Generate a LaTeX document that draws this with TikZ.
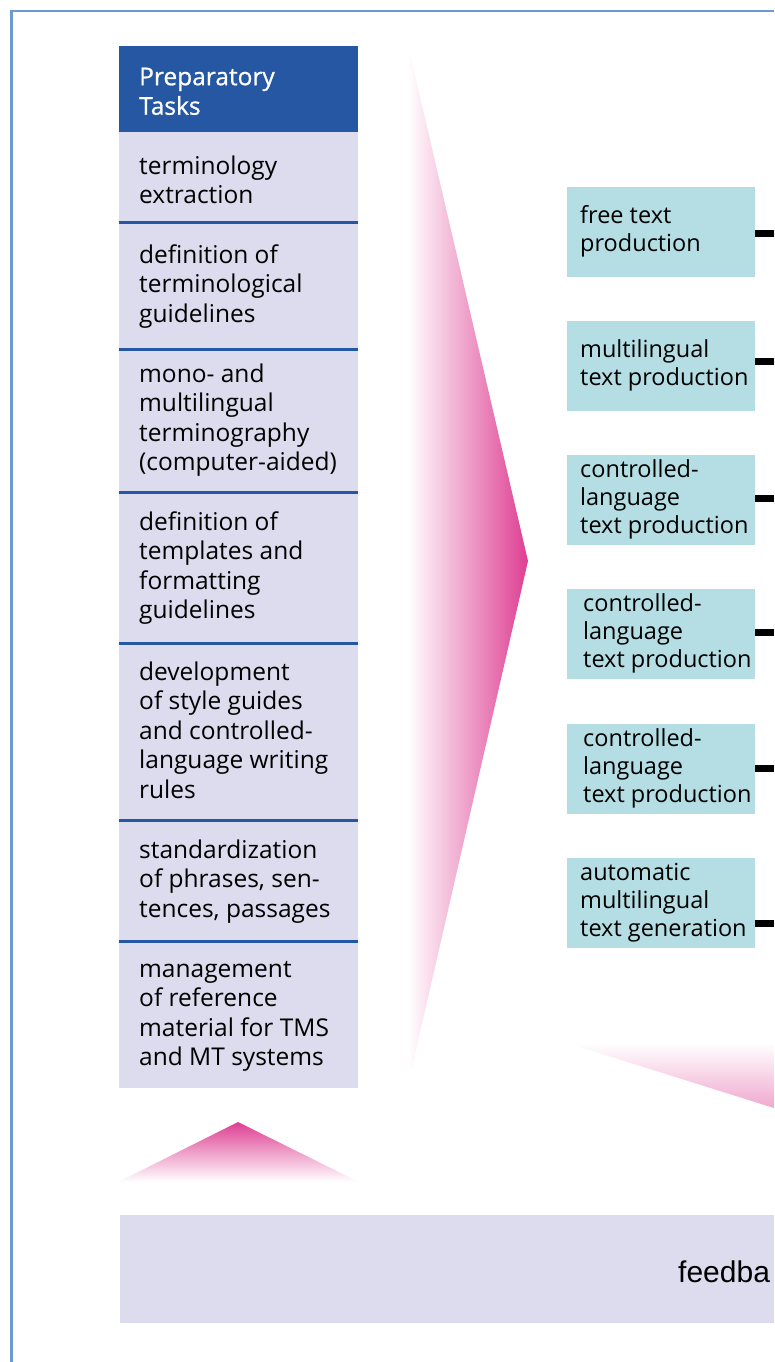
\documentclass[tikz,border=0pt]{standalone}
\usepackage{fontspec}
\setmainfont{Open Sans}
\newfontfamily\headfont{Open Sans}[FakeBold=0.8]
\newfontfamily\feedbackfont{Liberation Sans}
\usetikzlibrary{positioning}

\definecolor{headblue}{RGB}{37,87,163}
\definecolor{lavender}{RGB}{221,220,238}
\definecolor{tealbg}{RGB}{180,222,228}
\definecolor{frameblue}{RGB}{108,154,212}
\definecolor{fanpink}{RGB}{222,62,146}

% one cell of the task column: name, top, bottom, first baseline, text
\newcommand\taskcell[5]{
        \node [cell, minimum height=#3-#2] (#1) at (119,#2) {};
        \node [celltext] (#1txt) at (139,{#4-20.65}) {\strut #5};
}
% one production box: name, top, text indent, link height, text
\newcommand\prodbox[5]{
        \node [prod] (#1) at (567,#2) {};
        \node [prodtext] (#1txt) at ([xshift=#3]#1.west) {\strut #5\strut};
        \coordinate (#1end) at (774,#4);
        \draw [link] (#1.east |- #1end) -- (#1end);
}

\begin{document}
\begin{tikzpicture}[x=1pt, y=-1pt,
        cell/.style={fill=lavender, minimum width=239, anchor=north west, inner sep=0, outer sep=0},
        celltext/.style={anchor=north west, align=left, inner sep=0, font=\fontsize{24.5}{29.5}\selectfont},
        sep/.style={draw=headblue, line width=3},
        prod/.style={fill=tealbg, minimum width=188, minimum height=90, anchor=north west, inner sep=0, outer sep=0},
        prodtext/.style={anchor=west, align=left, inner sep=0, font=\fontsize{23.5}{28}\selectfont},
        link/.style={line width=7, black},
        frame/.style={draw=frameblue, line width=2.5}
        ]
        \useasboundingbox (0,0) rectangle (774,1362);
        \draw [frame] (774,11) -- (11.5,11) -- (11.5,1362);

        % shaded arrows
        \shade [left color=white, right color=fanpink] (408,45) -- (528,561) -- (408,1085) -- cycle;
        \shade [top color=fanpink, bottom color=white] (238,1122) -- (359,1182) -- (118,1182) -- cycle;
        \shade [top color=white, bottom color=fanpink!45] (567,1043) -- (774,1043) -- (774,1108) -- cycle;

        % preparatory tasks
        \node [cell, fill=headblue, minimum height=86] (head) at (119,46) {};
        \node [celltext, text=white, font=\headfont\fontsize{24.5}{29.5}\selectfont] (headtxt) at (139,{85-20.65}) {\strut Preparatory\\Tasks};
        \taskcell{c1}{132}{222}{174}{terminology\\extraction}
        \taskcell{c2}{222}{349}{263}{definition of\\terminological\\guidelines}
        \taskcell{c3}{349}{492}{382}{mono- and\\multilingual\\terminography\\(computer-aided)}
        \taskcell{c4}{492}{643}{530}{definition of\\templates and\\formatting\\guidelines}
        \taskcell{c5}{643}{820}{680}{development\\of style guides\\and controlled-\\language writing\\rules}
        \taskcell{c6}{820}{941}{858}{standardization\\of phrases, sen-\\tences, passages}
        \taskcell{c7}{941}{1088}{977}{management\\of reference\\material for TMS\\and MT systems}
        \foreach \c in {c2,c3,c4,c5,c6,c7}
          \draw [sep] (\c.north west) -- (\c.north east);

        % production
        \prodbox{p1}{187}{13pt}{233}{free text\\production}
        \prodbox{p2}{321}{13pt}{361}{multilingual\\text production}
        \prodbox{p3}{455}{13pt}{498}{controlled-\\language\\text production}
        \prodbox{p4}{589}{16pt}{632}{controlled-\\language\\text production}
        \prodbox{p5}{724}{16pt}{768}{controlled-\\language\\text production}
        \prodbox{p6}{858}{13pt}{923}{automatic\\multilingual\\text generation}

        % feedback
        \node [cell, minimum width=654, minimum height=108] (feedback) at (120,1215) {};
        \node [anchor=base west, inner sep=0, font=\feedbackfont\fontsize{30}{36}\selectfont] (feedbacktxt) at (678,1282) {feedba};
\end{tikzpicture}
\end{document}
